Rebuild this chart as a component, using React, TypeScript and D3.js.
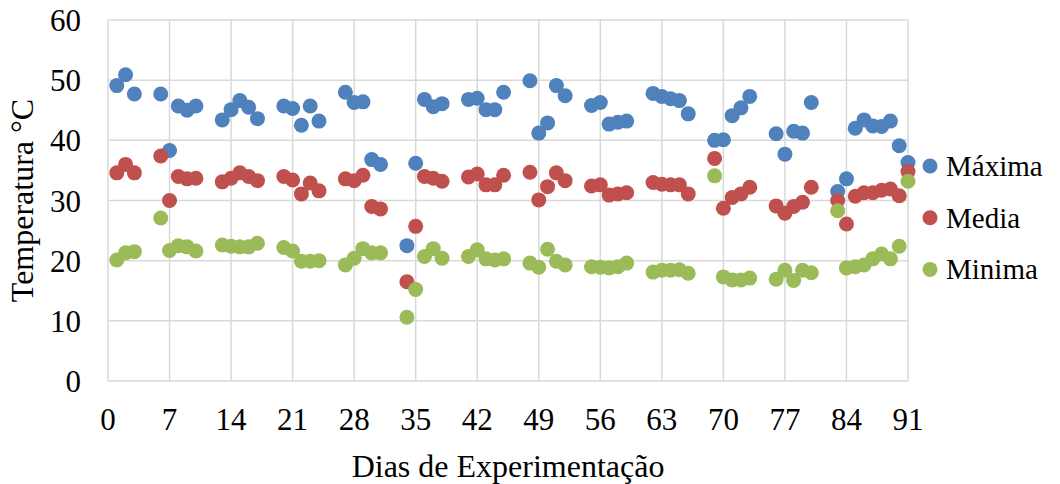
import React from "react";
import * as d3 from "d3";

const days = [1, 2, 3, 6, 7, 8, 9, 10, 13, 14, 15, 16, 17, 20, 21, 22, 23, 24, 27, 28, 29, 30, 31, 34, 35, 36, 37, 38, 41, 42, 43, 44, 45, 48, 49, 50, 51, 52, 55, 56, 57, 58, 59, 62, 63, 64, 65, 66, 69, 70, 71, 72, 73, 76, 77, 78, 79, 80, 83, 84, 85, 86, 87, 88, 89, 90, 91];

const maxima = [49.1, 50.9, 47.7, 47.7, 38.3, 45.7, 45.0, 45.7, 43.4, 45.1, 46.6, 45.5, 43.6, 45.7, 45.3, 42.5, 45.7, 43.2, 48.0, 46.3, 46.4, 36.8, 36.0, 22.5, 36.2, 46.8, 45.6, 46.1, 46.8, 47.0, 45.1, 45.1, 48.0, 49.9, 41.2, 42.9, 49.1, 47.4, 45.8, 46.3, 42.7, 43.0, 43.2, 47.8, 47.3, 46.9, 46.6, 44.4, 40.0, 40.1, 44.1, 45.4, 47.3, 41.1, 37.7, 41.5, 41.2, 46.3, 31.5, 33.6, 42.0, 43.4, 42.4, 42.3, 43.2, 39.1, 36.3];

const media = [34.6, 36.0, 34.6, 37.4, 30.0, 34.0, 33.6, 33.7, 33.1, 33.7, 34.6, 34.0, 33.3, 34.0, 33.4, 31.1, 32.9, 31.6, 33.6, 33.3, 34.2, 29.0, 28.6, 16.5, 25.7, 34.0, 33.7, 33.2, 33.9, 34.4, 32.6, 32.6, 34.2, 34.7, 30.1, 32.3, 34.6, 33.3, 32.4, 32.6, 30.9, 31.1, 31.3, 33.0, 32.7, 32.6, 32.6, 31.1, 37.0, 28.7, 30.5, 31.1, 32.2, 29.1, 27.9, 29.0, 29.7, 32.2, 30.0, 26.1, 30.7, 31.3, 31.3, 31.7, 31.9, 30.8, 34.8];

const minima = [20.1, 21.3, 21.5, 27.1, 21.7, 22.5, 22.3, 21.6, 22.6, 22.4, 22.3, 22.3, 22.9, 22.2, 21.6, 19.9, 19.9, 20.0, 19.3, 20.4, 22.0, 21.3, 21.3, 10.6, 15.2, 20.7, 22.0, 20.4, 20.7, 21.8, 20.3, 20.1, 20.3, 19.6, 18.9, 21.9, 19.9, 19.3, 19.0, 18.9, 18.8, 19.0, 19.6, 18.1, 18.4, 18.4, 18.5, 17.9, 34.1, 17.3, 16.8, 16.8, 17.1, 16.9, 18.4, 16.7, 18.4, 18.0, 28.3, 18.8, 19.0, 19.3, 20.3, 21.1, 20.3, 22.4, 33.2];

const xTicks = [0, 7, 14, 21, 28, 35, 42, 49, 56, 63, 70, 77, 84, 91];
const yTicks = [0, 10, 20, 30, 40, 50, 60];

const seriesNames = ["Máxima", "Media", "Minima"];
const seriesColors = ["#4F81BD", "#C0504D", "#9BBB59"];

export default function App() {
  const W = 1060, H = 484;
  const x = d3.scaleLinear().domain([0, 91]).range([108, 908]);
  const y = d3.scaleLinear().domain([0, 60]).range([381, 20]);
  const series = [maxima, media, minima];
  const ff = "Liberation Serif";

  return (
    <svg width={W} height={H} style={{ position: "absolute", left: 0, top: 0, background: "#fff" }}>
      {yTicks.map((t) => (
        <line key={"gy" + t} x1={x(0)} x2={x(91)} y1={y(t)} y2={y(t)} stroke="#d9d9d9" strokeWidth={1.5} />
      ))}
      {xTicks.map((t) => (
        <line key={"gx" + t} x1={x(t)} x2={x(t)} y1={y(0)} y2={y(60)} stroke="#d9d9d9" strokeWidth={1.5} />
      ))}
      {yTicks.map((t) => (
        <text key={"ty" + t} x={81} y={y(t) + 11} textAnchor="end" fontFamily={ff} fontSize={31} fill="#000">{t}</text>
      ))}
      {xTicks.map((t) => (
        <text key={"tx" + t} x={x(t)} y={430} textAnchor="middle" fontFamily={ff} fontSize={31} fill="#000">{t}</text>
      ))}
      <text x={508} y={477} textAnchor="middle" fontFamily={ff} fontSize={32} fill="#000">Dias de Experimentação</text>
      <text transform={`translate(33,${(y(0) + y(60)) / 2}) rotate(-90)`} textAnchor="middle" fontFamily={ff} fontSize={32} fill="#000">Temperatura °C</text>
      {series.map((vals, si) => (
        <g key={"s" + si}>
          {days.map((d, i) => (
            <circle key={i} cx={x(d)} cy={y(vals[i])} r={7.5} fill={seriesColors[si]} />
          ))}
        </g>
      ))}
      {seriesNames.map((n, i) => (
        <g key={"l" + i}>
          <circle cx={930} cy={166 + i * 51.7} r={7.5} fill={seriesColors[i]} />
          <text x={946} y={166 + i * 51.7 + 10} fontFamily={ff} fontSize={29} fill="#000">{n}</text>
        </g>
      ))}
    </svg>
  );
}
